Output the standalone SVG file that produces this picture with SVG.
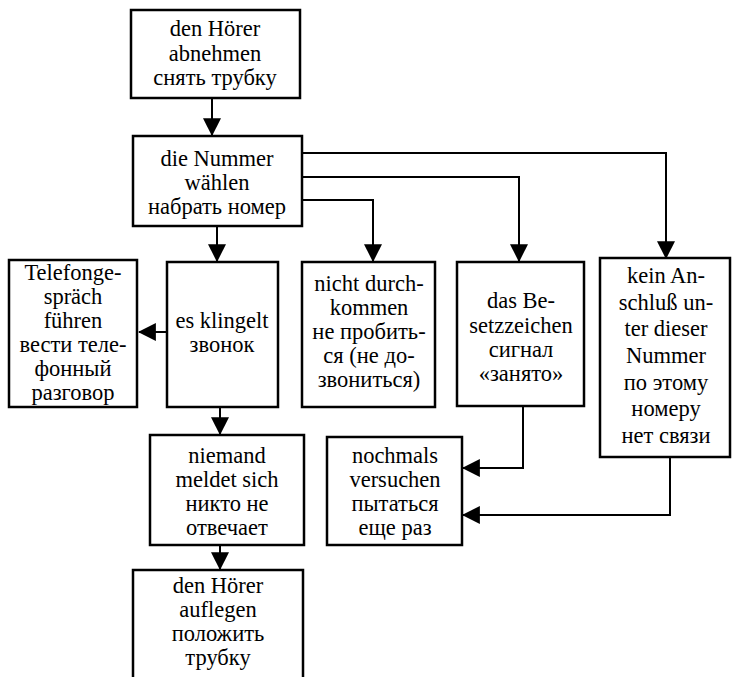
<svg xmlns="http://www.w3.org/2000/svg" width="732" height="677" viewBox="0 0 732 677">
<defs>
<style>
.box{fill:#fff;stroke:#000;stroke-width:2.5}
.t{font-family:'Liberation Serif',Tinos,'Times New Roman',Times,'DejaVu Serif','Noto Serif',Georgia,serif;font-size:22.5px;fill:#000;text-anchor:middle}
.c{fill:none;stroke:#000;stroke-width:2}
</style>
<marker id="ah" markerUnits="userSpaceOnUse" markerWidth="18" markerHeight="18" viewBox="0 0 16 16" refX="15" refY="8" orient="auto">
<path d="M0,0 L16,8 L0,16 Z" fill="#000"/>
</marker>
</defs>
<rect width="732" height="677" fill="#fff"/>
<g id="connectors">
<path class="c" d="M212,98 V135" marker-end="url(#ah)"/>
<path class="c" d="M217,226 V261" marker-end="url(#ah)"/>
<path class="c" d="M302,200 H373 V261" marker-end="url(#ah)"/>
<path class="c" d="M302,177 H519 V261" marker-end="url(#ah)"/>
<path class="c" d="M302,153 H666 V258" marker-end="url(#ah)"/>
<path class="c" d="M167,332 H139" marker-end="url(#ah)"/>
<path class="c" d="M220,407 V434" marker-end="url(#ah)"/>
<path class="c" d="M220,545 V569" marker-end="url(#ah)"/>
<path class="c" d="M523,406 V468 H463" marker-end="url(#ah)"/>
<path class="c" d="M670,457 V515 H463" marker-end="url(#ah)"/>
</g>
<g id="n1">
<rect class="box" x="131" y="10" width="169" height="88"/>
<text class="t"><tspan x="215" y="36">den Hörer</tspan><tspan x="215" y="61">abnehmen</tspan><tspan x="215" y="85">снять трубку</tspan></text>
</g>
<g id="n2">
<rect class="box" x="133" y="136" width="169" height="90"/>
<text class="t"><tspan x="217" y="166">die Nummer</tspan><tspan x="217" y="190">wählen</tspan><tspan x="217" y="214">набрать номер</tspan></text>
</g>
<g id="n3">
<rect class="box" x="9" y="260" width="128" height="147"/>
<text class="t"><tspan x="73" y="280">Telefonge-</tspan><tspan x="73" y="304">spräch</tspan><tspan x="73" y="328">führen</tspan><tspan x="73" y="352">вести теле-</tspan><tspan x="73" y="376">фонный</tspan><tspan x="73" y="400">разговор</tspan></text>
</g>
<g id="n4">
<rect class="box" x="167" y="262" width="111" height="145"/>
<text class="t"><tspan x="222" y="328">es klingelt</tspan><tspan x="222" y="352">звонок</tspan></text>
</g>
<g id="n5">
<rect class="box" x="302" y="262" width="133" height="145"/>
<text class="t"><tspan x="369" y="291">nicht durch-</tspan><tspan x="369" y="315">kommen</tspan><tspan x="369" y="339">не пробить-</tspan><tspan x="369" y="363">ся (не до-</tspan><tspan x="369" y="387">звониться)</tspan></text>
</g>
<g id="n6">
<rect class="box" x="457" y="262" width="127" height="144"/>
<text class="t"><tspan x="521" y="308">das Be-</tspan><tspan x="521" y="333">setzzeichen</tspan><tspan x="521" y="357">сигнал</tspan><tspan x="521" y="381">«занято»</tspan></text>
</g>
<g id="n7">
<rect class="box" x="600" y="258" width="130" height="199"/>
<text class="t"><tspan x="666" y="283">kein An-</tspan><tspan x="666" y="310">schluß un-</tspan><tspan x="666" y="336">ter dieser</tspan><tspan x="666" y="363">Nummer</tspan><tspan x="666" y="390">по этому</tspan><tspan x="666" y="416">номеру</tspan><tspan x="666" y="443">нет связи</tspan></text>
</g>
<g id="n8">
<rect class="box" x="150" y="435" width="154" height="110"/>
<text class="t"><tspan x="227" y="463">niemand</tspan><tspan x="227" y="487">meldet sich</tspan><tspan x="227" y="511">никто не</tspan><tspan x="227" y="535">отвечает</tspan></text>
</g>
<g id="n9">
<rect class="box" x="327" y="437" width="135" height="108"/>
<text class="t"><tspan x="395" y="463">nochmals</tspan><tspan x="395" y="487">versuchen</tspan><tspan x="395" y="511">пытаться</tspan><tspan x="395" y="535">еще раз</tspan></text>
</g>
<g id="n10">
<rect class="box" x="133" y="570" width="170" height="115"/>
<text class="t"><tspan x="218" y="593">den Hörer</tspan><tspan x="218" y="617">auflegen</tspan><tspan x="218" y="641">положить</tspan><tspan x="218" y="665">трубку</tspan></text>
</g>
</svg>
